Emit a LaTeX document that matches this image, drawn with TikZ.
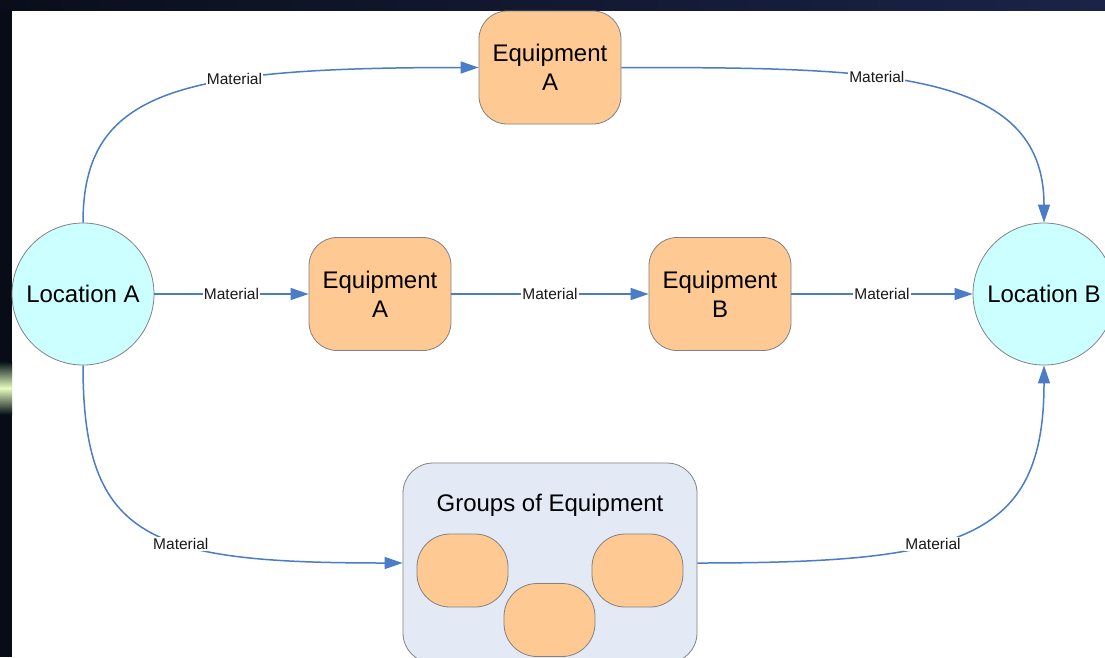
\documentclass[tikz,border=0pt]{standalone}
\usepackage{fontspec}
\setmainfont{Liberation Sans}
\usetikzlibrary{arrows.meta}
\definecolor{flowc}{RGB}{74,124,200}
\definecolor{locfill}{RGB}{204,255,255}
\definecolor{eqfill}{RGB}{255,201,147}
\definecolor{grpfill}{RGB}{227,234,246}
\definecolor{edgec}{RGB}{130,130,130}
\definecolor{stripl}{RGB}{8,12,22}
\definecolor{topl}{RGB}{10,14,27}
\definecolor{topr}{RGB}{27,35,72}
\definecolor{glowe}{RGB}{8,20,26}
\definecolor{glowm}{RGB}{230,252,192}
\tikzset{
  loc/.style={circle, draw=edgec, line width=0.8pt, fill=locfill, minimum size=142pt, inner sep=0pt,
    font=\fontsize{24}{29}\selectfont, text=black},
  equip/.style={rectangle, rounded corners=28pt, draw=edgec, line width=0.8pt, fill=eqfill,
    minimum width=142pt, minimum height=113pt, inner sep=0pt, align=center,
    font=\fontsize{24}{29}\selectfont, text=black},
  oval/.style={rectangle, rounded corners=33pt, draw=edgec, line width=0.8pt, fill=eqfill,
    minimum width=91pt, minimum height=73pt, inner sep=0pt},
  grp/.style={rectangle, rounded corners=30pt, draw=edgec, line width=0.8pt, fill=grpfill,
    minimum width=294pt, minimum height=200pt, inner sep=0pt},
  gtitle/.style={font=\fontsize{24}{28}\selectfont, text=black, inner sep=0pt},
  flow/.style={draw=flowc, line width=1.5pt, -{Triangle[length=18pt,width=12pt]}},
  lbl/.style={fill=white, inner sep=1pt, font=\fontsize{15.5}{18}\selectfont, text=black!90},
}
\begin{document}
\begin{tikzpicture}[x=1pt,y=-1pt]
\clip (0,0) rectangle (1105,657);
\useasboundingbox (0,0) rectangle (1105,657);
% background
\fill[white] (0,0) rectangle (1105,657);
\shade[left color=topl, right color=topr] (0,0) rectangle (1105,10);
\fill[stripl] (0,10) rectangle (12,657);
\shade[top color=glowe, bottom color=glowe, middle color=glowm] (0,362) rectangle (12,414);
% nodes
\node[loc] (la) at (83,294) {Location A};
\node[loc] (lb) at (1044,294) {Location B};
\node[equip] (eqt) at (550,67.5) {Equipment\\A};
\node[equip] (eqa) at (380,294) {Equipment\\A};
\node[equip] (eqb) at (720,294) {Equipment\\B};
\node[grp] (grp) at (550,563) {};
\node[gtitle] (gt) at (550,505) {Groups of Equipment};
\node[oval] (o1) at (462.5,570.5) {};
\node[oval] (o2) at (549.5,620) {};
\node[oval] (o3) at (637.5,570.5) {};
% connectors
\draw[flow] (la.north) .. controls +(0,-133) and +(-299,0) .. node[lbl,pos=0.65] {Material} (eqt.west);
\draw[flow] (eqt.east) .. controls +(259,0) and +(0,-153) .. node[lbl,pos=0.39] {Material} (lb.north);
\draw[flow] (la.east) -- node[lbl] {Material} (eqa.west);
\draw[flow] (eqa.east) -- node[lbl] {Material} (eqb.west);
\draw[flow] (eqb.east) -- node[lbl] {Material} (lb.west);
\draw[flow] (la.south) .. controls +(0,175) and +(-253,0) .. node[lbl,pos=0.6] {Material} (grp.west);
\draw[flow] (grp.east) .. controls +(263,0) and +(0,175) .. node[lbl,pos=0.4] {Material} (lb.south);
\end{tikzpicture}
\end{document}
